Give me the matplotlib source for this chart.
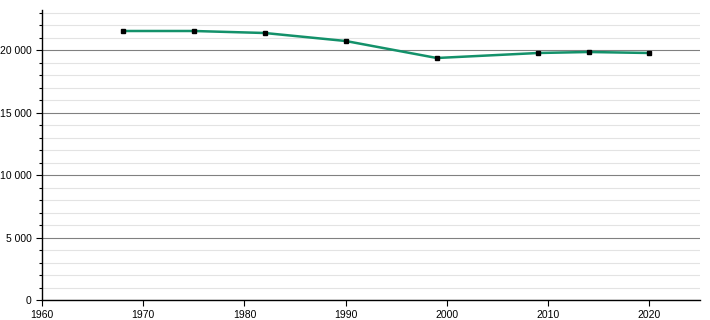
import matplotlib
matplotlib.use("Agg")
import matplotlib.pyplot as plt
from matplotlib.ticker import FuncFormatter, MultipleLocator

years = [1968, 1975, 1982, 1990, 1999, 2009, 2014, 2020]
population = [21520, 21520, 21360, 20720, 19360, 19760, 19840, 19760]

plt.rcParams["font.family"] = ["Liberation Sans", "DejaVu Sans"]

fig = plt.figure(figsize=(7.1, 3.2), dpi=100)
ax = fig.add_axes([42 / 710, 20 / 320, 658 / 710, 290 / 320])

ax.set_xlim(1960, 2025)
ax.set_ylim(0, 23200)

ax.yaxis.set_major_locator(MultipleLocator(5000))
ax.yaxis.set_minor_locator(MultipleLocator(1000))
ax.xaxis.set_major_locator(MultipleLocator(10))
ax.yaxis.set_major_formatter(FuncFormatter(lambda v, _: f"{int(v):,}".replace(",", " ")))

ax.grid(which="minor", axis="y", color="#e3e3e3", lw=0.8)
ax.grid(which="major", axis="y", color="#808080", lw=0.8)
ax.set_axisbelow(True)

ax.plot(years, population, color="#13916a", lw=1.8, zorder=3)
ax.plot(years, population, ls="none", marker="s", ms=3.5, color="black", zorder=4)

for side in ("top", "right"):
    ax.spines[side].set_visible(False)
for side in ("left", "bottom"):
    ax.spines[side].set_linewidth(1.0)

ax.tick_params(axis="both", which="major", labelsize=7.5, length=4, width=0.8)
ax.tick_params(axis="y", which="minor", length=2.5, width=0.8)

fig.savefig("out.png", dpi=100)
